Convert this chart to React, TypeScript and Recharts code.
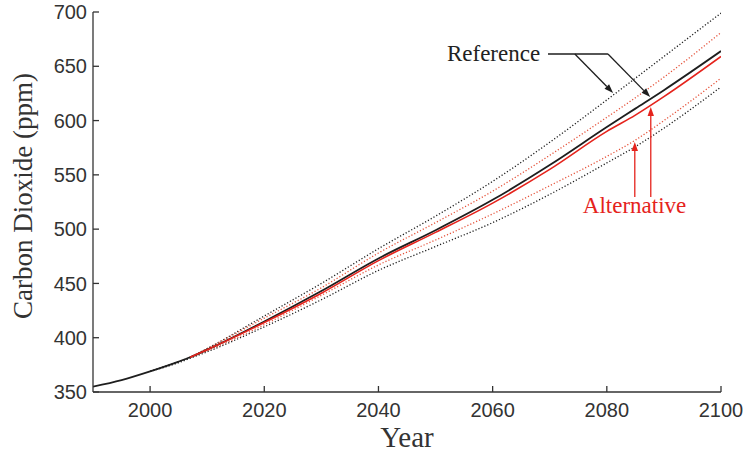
import React from 'react';
import { LineChart, Line, XAxis, YAxis, ReferenceLine, ReferenceDot } from 'recharts';

// CO2 projections (ppm)
const years = [1990, 1995, 2000, 2005, 2007, 2010, 2020, 2030, 2040, 2050, 2060, 2070, 2080, 2085, 2090, 2100];
const refMid = [355, 361, 369, 378, 382, 389, 415, 443, 473, 499, 527, 559, 594, 611, 628, 664];
const altMid = [null, null, null, null, 382, 389, 414, 441, 471, 497, 524, 555, 590, 605, 622, 659];
const refHigh = [null, null, 369, 378, 382, 390, 420, 450, 482, 512, 544, 580, 619, 639, 659, 699];
const altHigh = [null, null, null, null, 382, 390, 418, 446, 478, 506, 535, 568, 603, 621, 640, 681];
const altLow = [null, null, null, null, 382, 388, 412, 439, 467, 490, 514, 540, 567, 582, 600, 639];
const refLow = [null, null, 369, 377, 381, 387, 410, 435, 462, 484, 506, 532, 561, 576, 593, 631];

const xTicks = [2000, 2020, 2040, 2060, 2080, 2100];
const yTicks = [350, 400, 450, 500, 550, 600, 650, 700];

const data = years.map((year, i) => ({
  year,
  refMid: refMid[i],
  altMid: altMid[i],
  refHigh: refHigh[i],
  altHigh: altHigh[i],
  altLow: altLow[i],
  refLow: refLow[i],
}));

const BLACK = '#1e1e1e';
const RED = '#e5231c';
const RED_DOT = '#e5523a';
const AXIS = '#333';
const tickFont = { fontFamily: '"Liberation Sans", Arial, sans-serif', fontSize: 20, fill: '#333' };
const serif = '"Liberation Serif", "Times New Roman", serif';

function arrow(color: string) {
  return (p: any) => {
    const { x1, y1, x2, y2 } = p;
    const a = Math.atan2(y2 - y1, x2 - x1);
    const L = 9, W = 3.2;
    const bx = x2 - L * Math.cos(a), by = y2 - L * Math.sin(a);
    const pts = `${x2},${y2} ${bx - W * Math.sin(a)},${by + W * Math.cos(a)} ${bx + W * Math.sin(a)},${by - W * Math.cos(a)}`;
    return (
      <g>
        <line x1={x1} y1={y1} x2={bx} y2={by} stroke={color} strokeWidth={1.3} />
        <polygon points={pts} fill={color} />
      </g>
    );
  };
}

export default function App() {
  return (
    <div style={{ position: 'absolute', left: 0, top: 0, background: '#fff' }}>
      <LineChart width={744} height={454} data={data} margin={{ top: 12, right: 23, bottom: 0, left: 0 }}>
        <XAxis
          dataKey="year" type="number" domain={[1990, 2100]} ticks={xTicks} allowDataOverflow
          height={62} tickSize={-6} tickMargin={17} tick={tickFont}
          axisLine={{ stroke: AXIS, strokeWidth: 1.3 }} tickLine={{ stroke: AXIS, strokeWidth: 1.3 }}
          label={{
            content: (p: any) => {
              const vb = p.viewBox;
              return (
                <text x={vb.x + vb.width / 2} y={vb.y + 55} textAnchor="middle" fontFamily={serif} fontSize={29} fill="#333">Year</text>
              );
            },
          }}
        />
        <XAxis
          xAxisId="top" orientation="top" dataKey="year" type="number" domain={[1990, 2100]} ticks={xTicks}
          height={0} tickSize={-6} tick={false}
          axisLine={{ stroke: AXIS, strokeWidth: 1.3 }} tickLine={{ stroke: AXIS, strokeWidth: 1.3 }}
        />
        <YAxis
          type="number" domain={[350, 700]} ticks={yTicks} allowDataOverflow
          width={93} tickSize={-6} tickMargin={12} tick={tickFont}
          axisLine={{ stroke: AXIS, strokeWidth: 1.3 }} tickLine={{ stroke: AXIS, strokeWidth: 1.3 }}
          label={{
            content: (p: any) => {
              const vb = p.viewBox;
              const cx = 32, cy = vb.y + vb.height / 2 - 6;
              return (
                <text x={cx} y={cy} transform={`rotate(-90 ${cx} ${cy})`} textAnchor="middle" fontFamily={serif} fontSize={27} fill="#333">
                  Carbon Dioxide (ppm)
                </text>
              );
            },
          }}
        />
        <YAxis
          yAxisId="right" orientation="right" type="number" domain={[350, 700]} ticks={yTicks}
          width={0} tickSize={-6} tick={false}
          axisLine={{ stroke: AXIS, strokeWidth: 1.3 }} tickLine={{ stroke: AXIS, strokeWidth: 1.3 }}
        />

        <Line dataKey="refHigh" stroke={BLACK} strokeWidth={1.3} strokeDasharray="1.2 2" dot={false} type="monotone" isAnimationActive={false} />
        <Line dataKey="refLow" stroke={BLACK} strokeWidth={1.3} strokeDasharray="1.2 2" dot={false} type="monotone" isAnimationActive={false} />
        <Line dataKey="altHigh" stroke={RED_DOT} strokeWidth={1.3} strokeDasharray="1.2 2" dot={false} type="monotone" isAnimationActive={false} />
        <Line dataKey="altLow" stroke={RED_DOT} strokeWidth={1.3} strokeDasharray="1.2 2" dot={false} type="monotone" isAnimationActive={false} />
        <Line dataKey="refMid" stroke={BLACK} strokeWidth={1.8} dot={false} type="monotone" isAnimationActive={false} />
        <Line dataKey="altMid" stroke={RED} strokeWidth={1.6} dot={false} type="monotone" isAnimationActive={false} />

        {/* annotations */}
        <ReferenceDot x={2052} y={655} r={0} shape={(p: any) => (
          <text x={p.cx} y={p.cy} fontFamily={serif} fontSize={23} fill="#222">Reference</text>
        )} />
        <ReferenceLine segment={[{ x: 2069.7, y: 661.3 }, { x: 2080.2, y: 661.3 }]} stroke={BLACK} strokeWidth={1.3} />
        <ReferenceLine segment={[{ x: 2074.4, y: 661.3 }, { x: 2081.1, y: 625.4 }]} shape={arrow(BLACK)} />
        <ReferenceLine segment={[{ x: 2080.2, y: 661.3 }, { x: 2087.6, y: 621.7 }]} shape={arrow(BLACK)} />

        <ReferenceDot x={2075.8} y={514.9} r={0} shape={(p: any) => (
          <text x={p.cx} y={p.cy} fontFamily={serif} fontSize={23} fill={RED}>Alternative</text>
        )} />
        <ReferenceLine segment={[{ x: 2084.9, y: 529.6 }, { x: 2084.9, y: 580.3 }]} shape={arrow(RED)} />
        <ReferenceLine segment={[{ x: 2087.7, y: 529.6 }, { x: 2087.7, y: 612.5 }]} shape={arrow(RED)} />
      </LineChart>
    </div>
  );
}
